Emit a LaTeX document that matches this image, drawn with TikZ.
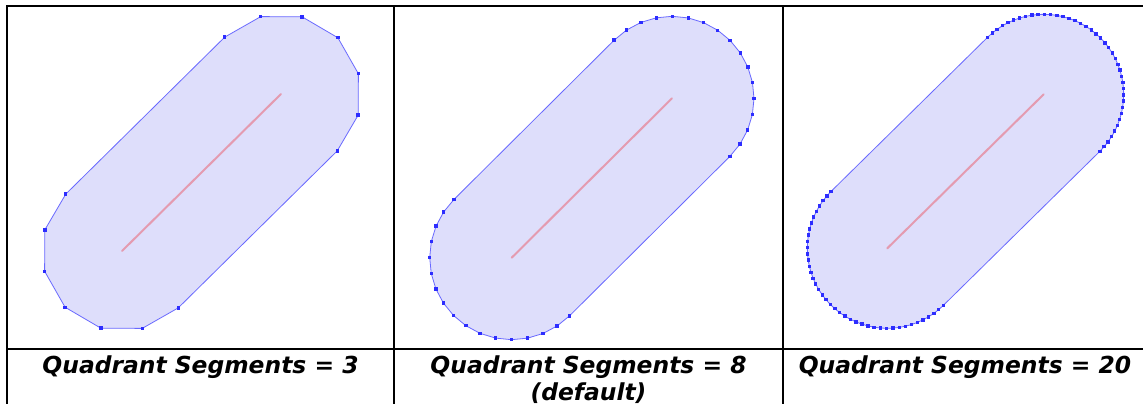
\documentclass[tikz,border=0pt]{standalone}
\usepackage{fontspec}
\setmainfont{DejaVu Sans}
\usepackage{xcolor}
\definecolor{bufferfill}{RGB}{222,222,251}
\definecolor{bufferline}{RGB}{105,105,255}
\definecolor{vertexmark}{RGB}{45,45,255}
\definecolor{segline}{RGB}{228,155,176}

% buffer of segment (#1,#2)--(#3,#4), radius #5, quadrant segments #6
\newcommand{\bufferpanel}[6]{%
  \pgfmathsetmacro{\segang}{atan2(#4-#2,#3-#1)}%
  \pgfmathsetmacro{\stepang}{90/#6}%
  \pgfmathtruncatemacro{\nseg}{2*#6}%
  \filldraw[buffer] ([shift={(#3,#4)}]{\segang+90}:#5)
    \foreach \i in {1,...,\nseg} {-- ([shift={(#3,#4)}]{\segang+90-\i*\stepang}:#5)}
    \foreach \i in {0,...,\nseg} {-- ([shift={(#1,#2)}]{\segang-90-\i*\stepang}:#5)}
    -- cycle;
  \foreach \i in {0,...,\nseg} {
    \fill[vertexmark] ([shift={(#3,#4)}]{\segang+90-\i*\stepang}:#5) ++(-1.7,-1.7) rectangle ++(3.4,3.4);
    \fill[vertexmark] ([shift={(#1,#2)}]{\segang-90-\i*\stepang}:#5) ++(-1.7,-1.7) rectangle ++(3.4,3.4);
  }
  \draw[segment] (#1,#2) -- (#3,#4);
}

\begin{document}
\begin{tikzpicture}[x=1pt,y=1pt,line cap=round,
  buffer/.style={fill=bufferfill,draw=bufferline,line width=0.8pt,line join=round},
  segment/.style={segline,line width=2pt},
  tableline/.style={black,line width=2pt,line cap=butt},
  caption/.style={anchor=base,inner sep=0pt,font=\fontsize{23.4}{28}\selectfont\bfseries\itshape}]
\useasboundingbox (0,0) rectangle (1143,404);
\clip (0,0) rectangle (1143,404);
\fill[white] (0,0) rectangle (1143,404);
% table
\draw[tableline] (7.3,-20) -- (7.3,398.3) -- (1160,398.3);
\draw[tableline] (6.3,55) -- (1160,55);
\draw[tableline] (393.7,-20) -- (393.7,398.3);
\draw[tableline] (782.7,-20) -- (782.7,398.3);
% buffers
\bufferpanel{122}{153}{281}{310}{80}{3}
\bufferpanel{511.7}{146.3}{672}{305.7}{82}{8}
\bufferpanel{887.3}{155.7}{1043.7}{309.7}{80}{20}
% captions
\node[caption] (qs3) at (200.5,30) {Quadrant Segments = 3};
\node[caption] (qs8) at (588.5,30) {Quadrant Segments = 8};
\node[caption] (qs8note) at (588.5,3) {(default)};
\node[caption] (qs20) at (965,30) {Quadrant Segments = 20};
\end{tikzpicture}
\end{document}
